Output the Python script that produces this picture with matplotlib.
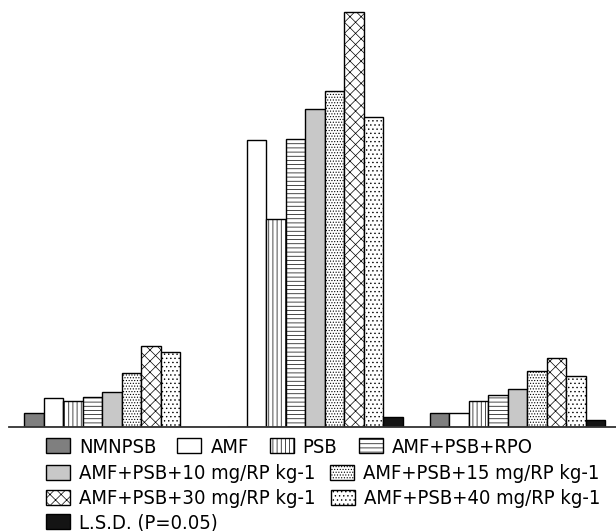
import numpy as np
import matplotlib
matplotlib.use("Agg")
import matplotlib.pyplot as plt
from matplotlib import font_manager as fm

# ---- data (arbitrary units) ----
groups = ["Group 1", "Group 2", "Group 3"]
series = ["NMNPSB", "AMF", "PSB", "AMF+PSB+RPO",
          "AMF+PSB+10 mg/RP kg-1", "AMF+PSB+15 mg/RP kg-1",
          "AMF+PSB+30 mg/RP kg-1", "AMF+PSB+40 mg/RP kg-1",
          "L.S.D. (P=0.05)"]
nmnpsb = [1.34, 0.00, 1.34]
amf = [2.84, 28.67, 1.34]
psb = [2.60, 20.74, 2.57]
rpo = [2.94, 28.74, 3.17]
rp10 = [3.44, 31.74, 3.77]
rp15 = [5.34, 33.57, 5.57]
rp30 = [8.10, 41.50, 6.90]
rp40 = [7.44, 31.00, 5.04]
lsd = [0.00, 0.94, 0.67]
values = [nmnpsb, amf, psb, rpo, rp10, rp15, rp30, rp40, lsd]

# ---- styles ----
faces = ["#7f7f7f", "white", "white", "white", "#c8c8c8",
         "white", "white", "white", "#141414"]
hatches = [None, None, "||||", "----", None, "......", "xxx", "....", None]

plt.rcParams["hatch.linewidth"] = 0.5

FS = 14.5
fp = fm.FontProperties(family="DejaVu Sans", stretch="condensed", size=FS)

W, H = 616, 531
fig = plt.figure(figsize=(W / 100, H / 100), dpi=100)
left_px, base_px = 9.3, 426.7
ax = fig.add_axes([left_px / W, 1 - base_px / H, 1 - left_px / W, base_px / H])

x = np.arange(len(groups))
w = 0.0961
handles = []
for i, (name, vals) in enumerate(zip(series, values)):
    b = ax.bar(x + (i - 4) * w, vals, w, color=faces[i], edgecolor="black",
               hatch=hatches[i], linewidth=1.0, label=name, zorder=2)
    handles.append(b)

ax.set_xlim(-0.5065, 2.485)
ax.set_ylim(0, 42.67)
for s in ("left", "right", "top"):
    ax.spines[s].set_visible(False)
ax.spines["bottom"].set_color("#333333")
ax.spines["bottom"].set_linewidth(1.3)
ax.spines["bottom"].set_zorder(3)
ax.set_xticks([])
ax.set_yticks([])

em = FS * 100 / 72.0
rows = [([0, 1, 2, 3], 447.3, 21), ([4, 5], 473.7, 15.0),
        ([6, 7], 498.7, 15.0), ([8], 523.0, 15.0)]
for idx, yc, cs in rows:
    fig.legend([handles[k] for k in idx], [series[k] for k in idx],
               loc="center left", bbox_to_anchor=(46 / W, 1 - yc / H),
               ncol=len(idx), frameon=False, prop=fp,
               handlelength=24 / em, handleheight=16 / em,
               handletextpad=9 / em, columnspacing=cs / em,
               borderpad=0, borderaxespad=0)

fig.savefig("out.png", dpi=100)
